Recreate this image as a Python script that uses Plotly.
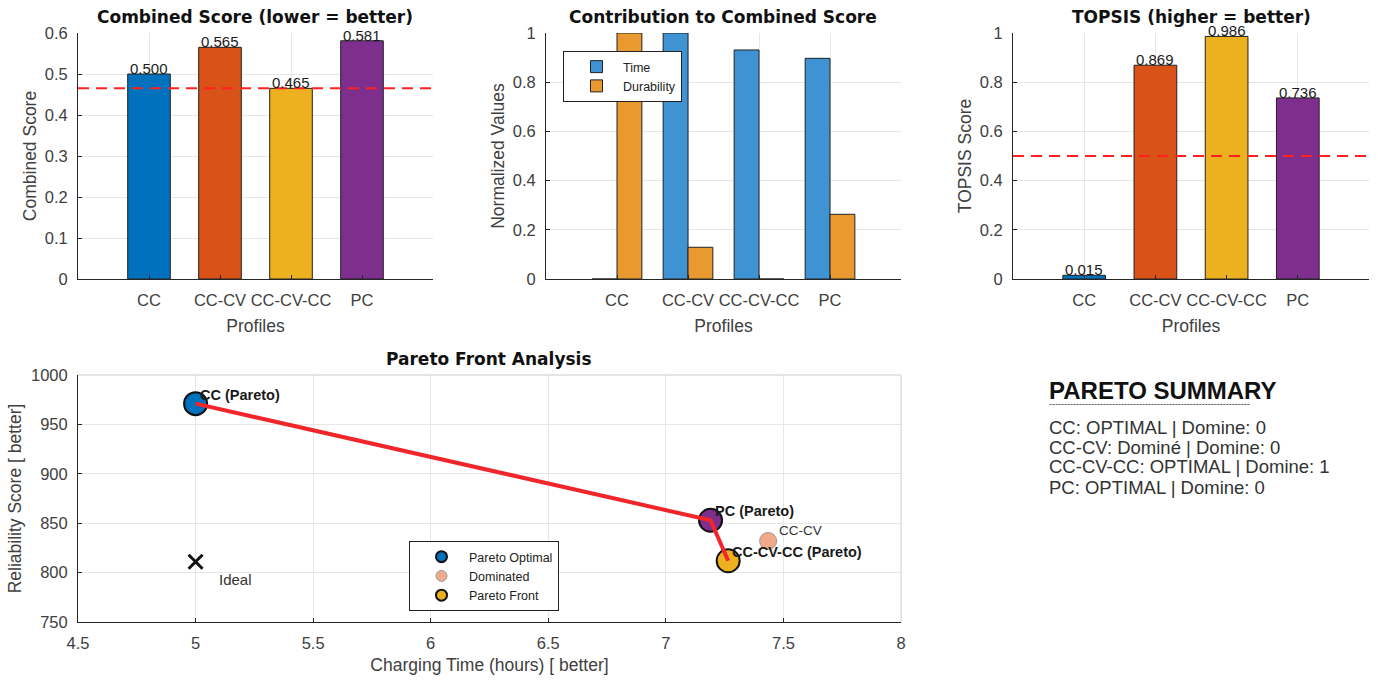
import plotly.graph_objects as go

W, H = 1378, 682

profiles = ["CC", "CC-CV", "CC-CV-CC", "PC"]
bar_colors = ["#0072BD", "#D95319", "#EDB120", "#7E2F8E"]
combined_score = [0.500, 0.565, 0.465, 0.581]
combined_best = 0.465
time_norm = [0.0, 1.0, 0.931, 0.897]
durability_norm = [1.0, 0.129, 0.0, 0.263]
topsis_score = [0.015, 0.869, 0.986, 0.736]
topsis_threshold = 0.5

pareto_names = ["CC", "PC", "CC-CV-CC"]
pareto_time = [5.0, 7.19, 7.265]
pareto_rel = [971, 853, 812]
pareto_colors = ["#0072BD", "#7E2F8E", "#EDB120"]
dom_name = "CC-CV"
dom_time = [7.435]
dom_rel = [832]
ideal_time = [5.0]
ideal_rel = [811]

summary_lines = [
    "CC: OPTIMAL | Domine: 0",
    "CC-CV: Dominé | Domine: 0",
    "CC-CV-CC: OPTIMAL | Domine: 1",
    "PC: OPTIMAL | Domine: 0",
]

pos = list(range(1, len(profiles) + 1))

FONT = "Liberation Sans, Arial, sans-serif"
TICKC = "#404040"
GRID = "#e6e6e6"
AXC = "#262626"
RED_DASH = "11px,7px"

def px_x(a, b):
    return [a / W, b / W]

def px_y(top, bottom):
    return [1 - bottom / H, 1 - top / H]

fig = go.Figure()

# Panel 1
fig.add_trace(go.Bar(x=pos, y=combined_score, marker=dict(color=bar_colors, line=dict(color="#222", width=1)),
                     width=0.6, xaxis="x", yaxis="y", showlegend=False))
fig.add_trace(go.Scatter(x=[0, 5], y=[combined_best, combined_best], mode="lines",
                         line=dict(color="#FF2020", width=2, dash=RED_DASH), xaxis="x", yaxis="y", showlegend=False))

# Panel 2
fig.add_trace(go.Bar(x=pos, y=time_norm, name="Time", marker=dict(color="#3F93D2", line=dict(color="#222", width=1)),
                     width=0.35, offset=-0.35, xaxis="x2", yaxis="y2", showlegend=True, legend="legend"))
fig.add_trace(go.Bar(x=pos, y=durability_norm, name="Durability", marker=dict(color="#E8992F", line=dict(color="#222", width=1)),
                     width=0.35, offset=0.0, xaxis="x2", yaxis="y2", showlegend=True, legend="legend"))

# Panel 3
fig.add_trace(go.Bar(x=pos, y=topsis_score, marker=dict(color=bar_colors, line=dict(color="#222", width=1)),
                     width=0.6, xaxis="x3", yaxis="y3", showlegend=False))
fig.add_trace(go.Scatter(x=[0, 5], y=[topsis_threshold, topsis_threshold], mode="lines",
                         line=dict(color="#FF2020", width=2, dash=RED_DASH), xaxis="x3", yaxis="y3", showlegend=False))

# Panel 4
fig.add_trace(go.Scatter(x=pareto_time, y=pareto_rel, mode="markers",
                         marker=dict(size=23, color=pareto_colors, line=dict(color="#111", width=2)),
                         xaxis="x4", yaxis="y4", showlegend=False))
fig.add_trace(go.Scatter(x=pareto_time, y=pareto_rel, mode="lines", line=dict(color="#F0262B", width=4),
                         xaxis="x4", yaxis="y4", showlegend=False))
fig.add_trace(go.Scatter(x=dom_time, y=dom_rel, mode="markers",
                         marker=dict(size=17, color="#F0A98A", line=dict(color="#999", width=1)),
                         xaxis="x4", yaxis="y4", showlegend=False))
fig.add_trace(go.Scatter(x=ideal_time, y=ideal_rel, mode="markers",
                         marker=dict(size=14, symbol="x-thin", color="#111", line=dict(color="#111", width=3)),
                         xaxis="x4", yaxis="y4", showlegend=False))
# legend-only entries
fig.add_trace(go.Scatter(x=[None], y=[None], mode="markers", name="Pareto Optimal",
                         marker=dict(size=11, color="#0072BD", line=dict(color="#111", width=2)),
                         xaxis="x4", yaxis="y4", legend="legend2"))
fig.add_trace(go.Scatter(x=[None], y=[None], mode="markers", name="Dominated",
                         marker=dict(size=11, color="#F0A98A", line=dict(color="#999", width=1)),
                         xaxis="x4", yaxis="y4", legend="legend2"))
fig.add_trace(go.Scatter(x=[None], y=[None], mode="markers", name="Pareto Front",
                         marker=dict(size=11, color="#EDB120", line=dict(color="#111", width=2)),
                         xaxis="x4", yaxis="y4", legend="legend2"))

ann = []
# value labels sitting on bar tops
for xa, ya, vals in (("x", "y", combined_score), ("x3", "y3", topsis_score)):
    for p, v in zip(pos, vals):
        ann.append(dict(x=p, y=v, xref=xa, yref=ya, text=f"{v:.3f}", showarrow=False,
                        xanchor="center", yanchor="bottom", yshift=-5,
                        font=dict(size=15, color="#1a1a1a", family=FONT)))

for n, xv, yv in zip(pareto_names, pareto_time, pareto_rel):
    ann.append(dict(x=xv, y=yv, xref="x4", yref="y4", text=f"<b>{n} (Pareto)</b>", showarrow=False,
                    xanchor="left", yanchor="bottom", xshift=2, yshift=-1,
                    font=dict(size=14.5, color="#1a1a1a", family=FONT)))
ann.append(dict(x=dom_time[0], y=dom_rel[0], xref="x4", yref="y4", text=dom_name, showarrow=False,
                xanchor="left", yanchor="bottom", xshift=9, yshift=1, font=dict(size=13.5, color="#333", family=FONT)))
ann.append(dict(x=ideal_time[0], y=ideal_rel[0], xref="x4", yref="y4", text="Ideal", showarrow=False,
                xanchor="left", yanchor="top", xshift=21, yshift=-7, font=dict(size=15, color="#333", family=FONT)))

titles = [("Combined Score (lower = better)", 255, 17), ("Contribution to Combined Score", 723, 17),
          ("TOPSIS (higher = better)", 1191, 17), ("Pareto Front Analysis", 489, 359)]
for t, cx, cy in titles:
    ann.append(dict(x=cx / W, y=1 - cy / H, xref="paper", yref="paper", text=f"<b>{t}</b>", showarrow=False,
                    xanchor="center", yanchor="middle", font=dict(size=17, color="#111", family="DejaVu Sans, sans-serif")))

ann.append(dict(x=1047 / W, y=1 - 390 / H, xref="paper", yref="paper", text="<b>PARETO SUMMARY</b>", showarrow=False,
                xanchor="left", yanchor="middle", font=dict(size=24, color="#111", family=FONT)))
ann.append(dict(x=1047 / W, y=1 - 404 / H, xref="paper", yref="paper", text="-" * 67, showarrow=False,
                xanchor="left", yanchor="middle", font=dict(size=9, color="#333", family=FONT)))
for i, line in enumerate(summary_lines):
    ann.append(dict(x=1047 / W, y=1 - (427 + 20 * i) / H, xref="paper", yref="paper", text=line, showarrow=False,
                    xanchor="left", yanchor="middle", font=dict(size=18.5, color="#333", family=FONT)))

TF = dict(size=16.5, color=TICKC, family=FONT)
TTF = dict(size=17.5, color=TICKC, family=FONT)

def xcat(domain, anchor):
    return dict(domain=domain, anchor=anchor, range=[0, 5], tickmode="array", tickvals=pos, ticktext=profiles,
                showgrid=True, gridcolor=GRID, zeroline=False, automargin=False, tickangle=0,
                showline=True, linecolor=AXC, linewidth=1, ticks="inside", ticklen=4, tickcolor=AXC,
                tickfont=TF, ticklabelstandoff=6,
                title=dict(text="Profiles", font=TTF, standoff=11))

def ynum(domain, anchor, rng, dtick, title, standoff):
    return dict(domain=domain, anchor=anchor, range=rng, dtick=dtick, showgrid=True, gridcolor=GRID,
                showline=True, linecolor=AXC, linewidth=1, ticks="inside", ticklen=4, tickcolor=AXC,
                tickfont=TF, zeroline=False, ticklabelstandoff=6, automargin=False,
                title=dict(text=title, font=TTF, standoff=standoff))

yd = px_y(33, 279)
fig.update_layout(
    width=W, height=H, margin=dict(l=0, r=0, t=0, b=0), paper_bgcolor="white", plot_bgcolor="white",
    barmode="overlay", font=dict(family=FONT),
    xaxis=xcat(px_x(78, 433), "y"),
    yaxis=ynum(yd, "x", [0, 0.6], 0.1, "Combined Score", 3),
    xaxis2=xcat(px_x(546, 901), "y2"),
    yaxis2=ynum(yd, "x2", [0, 1], 0.2, "Normalized Values", 3),
    xaxis3=xcat(px_x(1013, 1369), "y3"),
    yaxis3=ynum(yd, "x3", [0, 1], 0.2, "TOPSIS Score", 3),
    xaxis4=dict(domain=px_x(78, 901), anchor="y4", range=[4.5, 8], dtick=0.5, showgrid=True, gridcolor=GRID,
                showline=True, linecolor=AXC, ticks="inside", ticklen=4, tickcolor=AXC, zeroline=False,
                tickfont=TF, ticklabelstandoff=6, automargin=False,
                title=dict(text="Charging Time (hours) [ better]", font=TTF, standoff=7)),
    yaxis4=ynum(px_y(375, 622), "x4", [750, 1000], 50, "Reliability Score [ better]", 4),
    legend=dict(x=563 / W, y=1 - 51 / H, xanchor="left", yanchor="top", bgcolor="white", bordercolor="#222",
                borderwidth=1, font=dict(size=12.5, color="#222", family=FONT), tracegroupgap=0,
                itemwidth=43, indentation=6),
    legend2=dict(x=409 / W, y=1 - 541 / H, xanchor="left", yanchor="top", bgcolor="white", bordercolor="#222",
                 borderwidth=1, font=dict(size=12.5, color="#222", family=FONT), itemwidth=45, indentation=4),
    annotations=ann,
)
fig.add_shape(type="line", xref="x4 domain", yref="y4 domain", x0=0, x1=1, y0=1, y1=1, line=dict(color="#cccccc", width=1))
fig.add_shape(type="line", xref="x4 domain", yref="y4 domain", x0=1, x1=1, y0=0, y1=1, line=dict(color="#cccccc", width=1))

fig.write_html("out.html")
